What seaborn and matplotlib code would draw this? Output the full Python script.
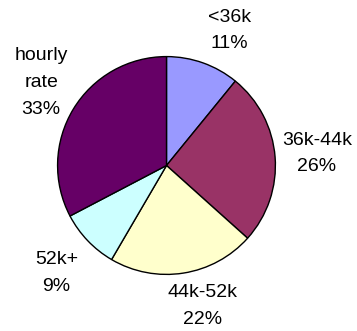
import numpy as np
import matplotlib
matplotlib.use("Agg")
import matplotlib.pyplot as plt
import seaborn as sns

sns.set_theme(style="white")
plt.rcParams['font.family'] = ['Liberation Sans', 'DejaVu Sans']

# Salary bands and their share of respondents
categories = ["<36k", "36k-44k", "44k-52k", "52k+", "hourly\nrate"]
shares = [11, 26, 22, 9, 33]
colors = ["#9999FF", "#993366", "#FFFFCC", "#CCFFFF", "#660066"]

labels = [f"{c}\n{s}%" for c, s in zip(categories, shares)]

# label anchor points, in units of the pie radius
label_pos = [(0.58, 1.24), (1.38, 0.11), (0.33, -1.29), (-1.01, -0.99), (-1.15, 0.76)]

fig = plt.figure(figsize=(3.57, 3.31), dpi=100)
ax = fig.add_axes([56.5 / 357, 1 - 275.5 / 331, 220 / 357, 220 / 331])

wedges, texts = ax.pie(
    shares,
    labels=labels,
    colors=colors,
    startangle=90,
    counterclock=False,
    labeldistance=1.36,
    wedgeprops=dict(edgecolor="black", linewidth=1.0),
    textprops=dict(fontsize=14, color="black"),
)
for t, pos in zip(texts, label_pos):
    t.set_position(pos)
    t.set_horizontalalignment("center")
    t.set_verticalalignment("center")
    t.set_linespacing(1.75)

ax.set_xlim(-1.01, 1.01)
ax.set_ylim(-1.01, 1.01)
ax.set_aspect("equal")
ax.axis("off")

fig.savefig("out.png", dpi=100, facecolor="white")
